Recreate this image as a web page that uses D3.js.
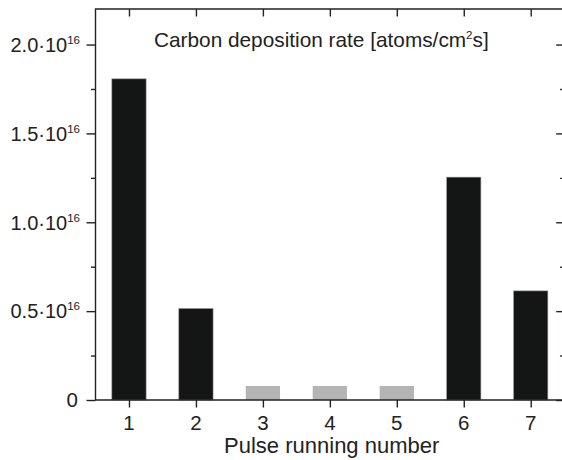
<!DOCTYPE html>
<html><head><meta charset="utf-8">
<script src="https://cdn.jsdelivr.net/npm/d3@7"></script>
<style>
html,body{margin:0;padding:0;background:#fff;}
svg{display:block;}
text{font-family:"Liberation Sans",Arial,sans-serif;fill:#222;}
</style></head>
<body>
<svg id="chart" width="562" height="460"></svg>
<script>
const pulses = [1, 2, 3, 4, 5, 6, 7];
const rates = [1.807e16, 0.515e16, 0.079e16, 0.079e16, 0.079e16, 1.254e16, 0.614e16];
const barKind = ["dark", "dark", "light", "light", "light", "dark", "dark"];
const yMajorTicks = [0, 0.5e16, 1.0e16, 1.5e16, 2.0e16];
const yMinorTicks = [0.25e16, 0.75e16, 1.25e16, 1.75e16];
const chartTitle = "Carbon deposition rate [atoms/cm";
const xTitle = "Pulse running number";

(function () {
const svg = d3.select("#chart");
const pl = 95.5, pr = 564.2, pt = 9, pb = 400;
const x = d3.scaleLinear().domain([0.5, 7.5]).range([pl, pr]);
const y = d3.scaleLinear().domain([0, 2.2e16]).range([pb, pt]);
const ink = "#222";
const sw = 1.4;

const bw = (x(2) - x(1)) * 0.512;
svg.append("g").selectAll("rect").data(pulses).join("rect")
  .attr("x", (d) => x(d) - bw / 2)
  .attr("width", bw)
  .attr("y", (d, i) => y(rates[i]))
  .attr("height", (d, i) => y(0) - y(rates[i]))
  .attr("fill", (d, i) => barKind[i] === "dark" ? "#141615" : "#b4b4b4")
  .attr("stroke", (d, i) => barKind[i] === "dark" ? "#9a9a9a" : "none")
  .attr("stroke-width", 0.6);

function styleAxis(g) {
  g.select(".domain").remove();
  g.selectAll(".tick line").attr("stroke", ink).attr("stroke-width", sw);
  g.selectAll(".tick text").remove();
}

svg.append("g").attr("transform", `translate(${pl},0)`)
  .call(d3.axisLeft(y).tickValues(yMajorTicks).tickSize(9)).call(styleAxis);
svg.append("g").attr("transform", `translate(${pl},0)`)
  .call(d3.axisLeft(y).tickValues(yMinorTicks).tickSize(4.5)).call(styleAxis);
svg.append("g").attr("transform", `translate(${pr},0)`)
  .call(d3.axisLeft(y).tickValues(yMajorTicks).tickSize(8)).call(styleAxis);
svg.append("g").attr("transform", `translate(${pr},0)`)
  .call(d3.axisLeft(y).tickValues(yMinorTicks).tickSize(4)).call(styleAxis);
svg.append("g").attr("transform", `translate(0,${pb})`)
  .call(d3.axisBottom(x).tickValues(pulses).tickSize(7.5)).call(styleAxis);
svg.append("g").attr("transform", `translate(0,${pt})`)
  .call(d3.axisBottom(x).tickValues(pulses).tickSize(7.5)).call(styleAxis);

svg.append("path")
  .attr("d", `M${pl},${pb}V${pt}H${pr}V${pb}Z`)
  .attr("fill", "none").attr("stroke", ink).attr("stroke-width", sw);

const yl = svg.append("g").selectAll("text").data(yMajorTicks).join("text")
  .attr("x", 80).attr("y", (d) => y(d) + 7.3)
  .attr("text-anchor", "end").attr("font-size", 20);
yl.each(function (d) {
  const t = d3.select(this);
  if (d === 0) { t.attr("x", 78).attr("font-size", 20.5).text("0"); return; }
  t.append("tspan").text((d / 1e16).toFixed(1) + "\u00b710");
  t.append("tspan").attr("font-size", 11.5).attr("dy", -8).text("16");
});

svg.append("g").selectAll("text").data(pulses).join("text")
  .attr("x", (d) => x(d)).attr("y", 429.5)
  .attr("text-anchor", "middle").attr("font-size", 20.5)
  .text((d) => d);

svg.append("text").attr("x", 331.7).attr("y", 453.3)
  .attr("text-anchor", "middle").attr("font-size", 22).text(xTitle);

const ct = svg.append("text").attr("x", 154).attr("y", 46.5).attr("font-size", 20.8);
ct.append("tspan").text(chartTitle);
ct.append("tspan").attr("font-size", 11.5).attr("dy", -8).text("2");
ct.append("tspan").attr("dy", 8).text("s]");
})();
</script>
</body></html>
